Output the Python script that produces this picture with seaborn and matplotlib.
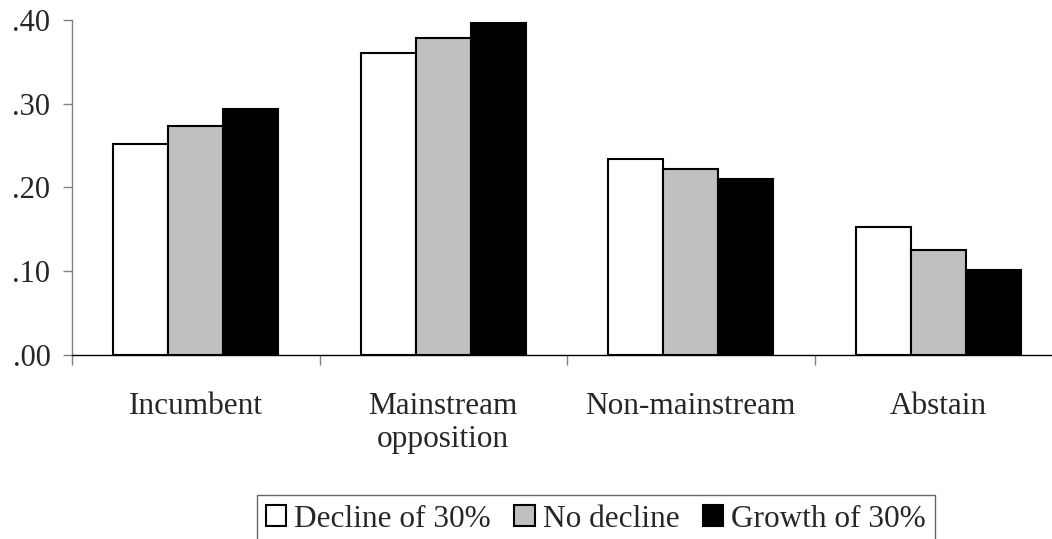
import matplotlib
matplotlib.use("Agg")
import matplotlib.pyplot as plt
import numpy as np
import pandas as pd
import seaborn as sns

# --- data ---
categories = ["Incumbent", "Mainstream\nopposition", "Non-mainstream", "Abstain"]
scenarios = ["Decline of 30%", "No decline", "Growth of 30%"]
decline_30 = [0.252, 0.361, 0.234, 0.153]
no_decline = [0.273, 0.379, 0.222, 0.125]
growth_30 = [0.294, 0.397, 0.210, 0.101]
y_ticks = [0.0, 0.1, 0.2, 0.3, 0.4]
y_tick_labels = [".00", ".10", ".20", ".30", ".40"]

df = pd.DataFrame(
    {
        "category": categories * 3,
        "scenario": np.repeat(scenarios, len(categories)),
        "value": decline_30 + no_decline + growth_30,
    }
)

sns.set_style("white")
plt.rcParams["font.family"] = ["Liberation Serif", "DejaVu Serif"]

fig = plt.figure(figsize=(10.52, 5.39), dpi=100)
ax = fig.add_axes([72 / 1052, 184.3 / 539, 990 / 1052, 334.7 / 539])

sns.barplot(
    data=df,
    x="category",
    y="value",
    hue="scenario",
    hue_order=scenarios,
    order=categories,
    palette=["white", "#C0C0C0", "black"],
    edgecolor="black",
    linewidth=1.5,
    width=0.667,
    gap=0,
    ax=ax,
)

ax.set_xlim(-0.5, len(categories) - 0.5)
ax.set_ylim(0, 0.40)
ax.set_yticks(y_ticks)
ax.set_yticklabels(y_tick_labels, fontsize=22)
ax.set_xlabel("")
ax.set_ylabel("")

# category labels on major ticks, separator ticks on minor ticks
ax.set_xticks(range(len(categories)))
ax.set_xticklabels(categories, fontsize=22.5, linespacing=1.15)
ax.tick_params(axis="x", which="major", length=0, pad=27)
ax.set_xticks(np.arange(-0.5, len(categories), 1.0), minor=True)
ax.tick_params(axis="x", which="minor", length=7, width=1, color="#808080", direction="out", bottom=True)
ax.tick_params(axis="y", length=6.5, width=1, color="#808080", direction="out", pad=9, left=True)

sns.despine(ax=ax, top=True, right=True)
ax.spines["left"].set_color("#808080")
ax.spines["left"].set_linewidth(1)
ax.spines["bottom"].set_color("black")
ax.spines["bottom"].set_linewidth(1)

ax.get_legend().remove()
handles, labels = ax.get_legend_handles_labels()
leg = fig.legend(
    handles,
    labels,
    loc="upper left",
    bbox_to_anchor=(256.7 / 1052, 43.7 / 539),
    borderaxespad=0,
    ncol=3,
    fontsize=22.5,
    frameon=True,
    fancybox=False,
    handlelength=0.65,
    handleheight=0.65,
    handletextpad=0.25,
    columnspacing=0.75,
    borderpad=0.3,
)
leg.get_frame().set_edgecolor("#404040")
leg.get_frame().set_linewidth(1)

fig.savefig("out.png", dpi=100)
